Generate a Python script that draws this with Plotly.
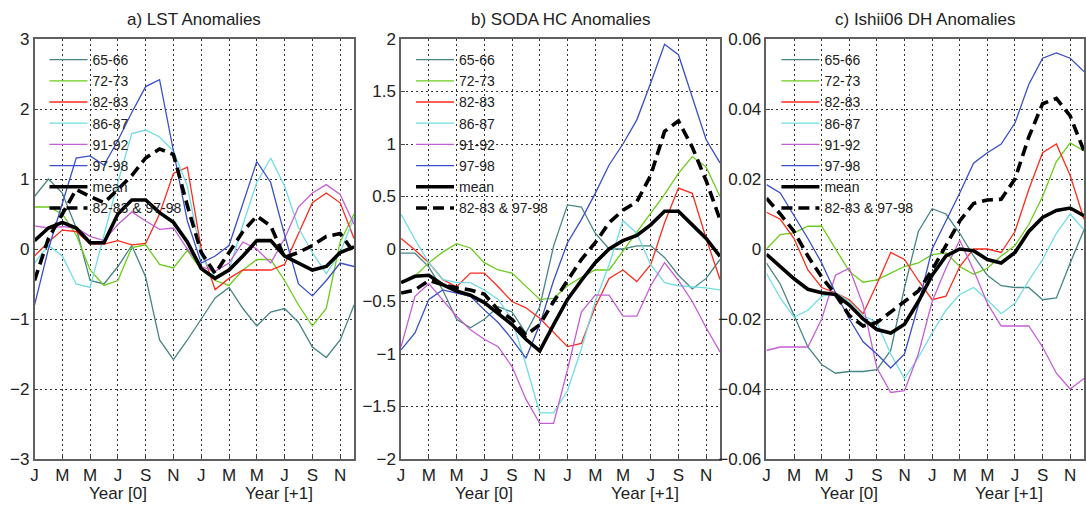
import plotly.graph_objects as go

months = list(range(24))
tick_vals = [0, 2, 4, 6, 8, 10, 12, 14, 16, 18, 20, 22]
tick_text = ["J", "M", "M", "J", "S", "N", "J", "M", "M", "J", "S", "N"]

series_names = ["65-66", "72-73", "82-83", "86-87", "91-92", "97-98", "mean", "82-83 & 97-98"]

# Panel a) LST anomalies
a_6566 = [0.75, 1.0, 0.8, 0.3, -0.45, -0.5, -0.25, 0.05, -0.4, -1.3, -1.58, -1.3, -1.0, -0.7, -0.55, -0.85, -1.1, -0.9, -0.85, -1.05, -1.4, -1.55, -1.3, -0.8]
a_7273 = [0.6, 0.6, 0.5, 0.2, -0.3, -0.52, -0.45, 0.02, 0.06, -0.22, -0.27, -0.02, -0.3, -0.45, -0.52, -0.3, -0.15, -0.15, -0.45, -0.8, -1.1, -0.85, 0.1, 0.5]
a_8283 = [-0.1, 0.1, 0.27, 0.25, 0.07, 0.07, 0.12, 0.06, 0.08, 0.5, 1.08, 1.17, 0.0, -0.58, -0.42, -0.3, -0.3, -0.3, -0.22, 0.23, 0.66, 0.8, 0.66, 0.15]
a_8687 = [-0.2, 0.05, -0.1, -0.5, -0.55, 0.2, 0.95, 1.65, 1.7, 1.6, 1.4, 0.9, -0.1, -0.4, -0.3, 0.35, 0.95, 1.3, 0.9, 0.3, -0.05, -0.35, -0.05, 0.45]
a_9192 = [0.33, 0.3, 0.32, 0.3, 0.18, 0.12, 0.35, 0.53, 0.4, 0.28, 0.3, 0.0, -0.25, -0.32, -0.2, 0.1, 0.0, -0.2, 0.15, 0.6, 0.8, 0.92, 0.78, 0.35]
a_9798 = [-0.8, 0.0, 0.65, 1.3, 1.33, 1.2, 1.55, 1.95, 2.32, 2.42, 1.4, 0.4, -0.2, -0.1, 0.05, 0.65, 1.25, 0.95, 0.2, -0.5, -0.67, -0.45, -0.2, -0.25]
a_mean = [0.12, 0.3, 0.38, 0.3, 0.09, 0.09, 0.5, 0.7, 0.7, 0.52, 0.38, 0.1, -0.28, -0.42, -0.3, -0.1, 0.12, 0.12, -0.1, -0.2, -0.3, -0.25, -0.05, 0.03]
a_dash = [-0.45, 0.15, 0.5, 0.85, 0.75, 0.66, 0.85, 1.05, 1.3, 1.43, 1.35, 0.62, -0.05, -0.35, -0.05, 0.25, 0.47, 0.33, -0.12, -0.05, 0.05, 0.18, 0.22, -0.05]

# Panel b) SODA HC anomalies
b_6566 = [-0.04, -0.04, -0.17, -0.39, -0.67, -0.75, -0.67, -0.55, -0.6, -0.8, -0.55, 0.03, 0.42, 0.4, 0.15, 0.0, 0.0, 0.03, 0.03, -0.08, -0.25, -0.38, -0.28, -0.1]
b_7273 = [-0.32, -0.26, -0.13, -0.03, 0.05, 0.01, -0.13, -0.2, -0.23, -0.36, -0.48, -0.47, -0.35, -0.27, -0.2, -0.2, -0.02, 0.15, 0.33, 0.52, 0.72, 0.88, 0.78, 0.5]
b_8283 = [0.1, -0.01, -0.13, -0.29, -0.36, -0.23, -0.23, -0.36, -0.5, -0.56, -0.66, -0.8, -0.93, -0.9, -0.55, -0.28, -0.2, -0.31, -0.15, 0.25, 0.58, 0.53, 0.1, -0.29]
b_8687 = [0.33, 0.09, -0.13, -0.29, -0.32, -0.32, -0.39, -0.48, -0.67, -1.1, -1.56, -1.56, -1.35, -0.95, -0.5, -0.15, 0.27, 0.15, -0.15, -0.32, -0.35, -0.36, -0.37, -0.39]
b_9192 = [-0.93, -0.45, -0.33, -0.48, -0.64, -0.77, -0.86, -0.93, -1.12, -1.43, -1.66, -1.66, -1.15, -0.6, -0.44, -0.44, -0.64, -0.64, -0.35, -0.13, -0.3, -0.5, -0.75, -0.98]
b_9798 = [-0.96, -0.8, -0.48, -0.39, -0.42, -0.45, -0.58, -0.7, -0.86, -1.04, -0.72, -0.3, 0.06, 0.28, 0.53, 0.8, 1.0, 1.23, 1.58, 1.95, 1.85, 1.45, 1.04, 0.82]
b_mean = [-0.32, -0.26, -0.25, -0.34, -0.4, -0.44, -0.51, -0.61, -0.72, -0.86, -0.97, -0.72, -0.48, -0.3, -0.13, 0.0, 0.08, 0.13, 0.23, 0.36, 0.36, 0.23, 0.1, -0.07]
b_dash = [-0.42, -0.39, -0.3, -0.34, -0.37, -0.39, -0.43, -0.58, -0.67, -0.82, -0.72, -0.5, -0.3, -0.1, 0.06, 0.25, 0.37, 0.45, 0.7, 1.12, 1.22, 0.97, 0.65, 0.28]

# Panel c) Ishii06 DH anomalies (in units of 0.01)
c_6566 = [-0.4, -1.0, -1.9, -2.8, -3.3, -3.55, -3.5, -3.5, -3.45, -2.9, -1.1, 0.5, 1.15, 1.0, 0.45, -0.2, -0.75, -1.05, -1.1, -1.1, -1.45, -1.4, -0.4, 0.55]
c_7273 = [0.0, 0.41, 0.46, 0.65, 0.65, 0.0, -0.64, -0.95, -0.88, -0.69, -0.5, -0.4, -0.16, -0.11, -0.5, -0.72, -0.55, -0.2, 0.1, 0.7, 1.5, 2.5, 3.03, 2.8]
c_8283 = [1.05, 0.85, 0.3, -0.6, -1.1, -1.25, -1.45, -1.85, -1.0, -0.1, -0.3, -0.9, -1.45, -1.35, -0.5, 0.0, 0.0, -0.1, 0.5, 1.7, 2.75, 3.0, 2.1, 0.85]
c_8687 = [-0.7, -1.4, -1.95, -1.75, -1.35, -1.25, -1.5, -1.9, -2.1, -3.0, -3.7, -3.1, -2.4, -1.75, -1.3, -1.1, -1.45, -1.85, -1.55, -0.9, -0.3, 0.45, 1.0, 0.55]
c_9192 = [-2.9, -2.8, -2.8, -2.8, -2.0, -0.75, -0.55, -1.6, -3.4, -4.1, -4.05, -3.0, -1.5, -0.55, 0.25, -0.6, -1.55, -2.2, -2.2, -2.2, -2.8, -3.55, -4.0, -3.7]
c_9798 = [1.84, 1.6, 0.95, 0.3, -0.4, -1.25, -2.0, -2.65, -3.0, -3.4, -3.0, -1.6, 0.0, 0.8, 1.6, 2.45, 2.75, 3.0, 3.6, 4.7, 5.45, 5.6, 5.45, 5.07]
c_mean = [-0.15, -0.5, -0.85, -1.15, -1.25, -1.3, -1.6, -2.0, -2.3, -2.4, -2.15, -1.5, -0.75, -0.2, 0.0, -0.05, -0.3, -0.4, -0.1, 0.5, 0.9, 1.1, 1.17, 0.95]
c_dash = [1.45, 1.0, 0.5, -0.2, -0.8, -1.3, -1.9, -2.2, -2.1, -1.8, -1.5, -1.2, -0.6, 0.1, 0.8, 1.3, 1.4, 1.42, 2.0, 3.2, 4.15, 4.3, 3.8, 2.8]
c_scale = 0.01

panel_titles = ["a) LST Anomalies", "b) SODA HC Anomalies", "c) Ishii06 DH Anomalies"]
year_labels = ["Year [0]", "Year [+1]"]

colors = ["#478585", "#6ccc1c", "#ff2b1c", "#70dde4", "#c45fd6", "#3a4fc8", "#000000", "#000000"]
widths = [1.3, 1.3, 1.3, 1.3, 1.3, 1.3, 3.6, 3.6]
dashes = ["solid"] * 7 + ["11px,6px"]

panels = [
    [a_6566, a_7273, a_8283, a_8687, a_9192, a_9798, a_mean, a_dash],
    [b_6566, b_7273, b_8283, b_8687, b_9192, b_9798, b_mean, b_dash],
    [[v * c_scale for v in s] for s in [c_6566, c_7273, c_8283, c_8687, c_9192, c_9798, c_mean, c_dash]],
]

W, H = 1086, 506
mt, mb = 39.3, 46.7
plot_h = H - mt - mb
domains = [(30.7 / W, 352.0 / W), (399.3 / W, 720.0 / W), (766.7 / W, 1.0)]
yranges = [(-3, 3, 1), (-2, 2, 0.5), (-0.06, 0.06, 0.02)]

FONT = "Arial, Liberation Sans, sans-serif"
fig = go.Figure()

legend_names = ["legend", "legend2", "legend3"]
for p, series in enumerate(panels):
    xa = "x" if p == 0 else f"x{p+1}"
    ya = "y" if p == 0 else f"y{p+1}"
    for i, s in enumerate(series):
        fig.add_trace(go.Scatter(
            x=months, y=s, mode="lines", name=series_names[i],
            line=dict(color=colors[i], width=widths[i], dash=dashes[i]),
            xaxis=xa, yaxis=ya, legend=legend_names[p], showlegend=True,
        ))

layout = dict(
    width=W, height=H,
    margin=dict(l=0, r=0, t=mt, b=mb, pad=0),
    paper_bgcolor="white", plot_bgcolor="white",
    font=dict(family=FONT, size=15, color="#222222"),
    annotations=[], showlegend=True,
)

for p in range(3):
    xk = "xaxis" if p == 0 else f"xaxis{p+1}"
    yk = "yaxis" if p == 0 else f"yaxis{p+1}"
    ya = "y" if p == 0 else f"y{p+1}"
    xa = "x" if p == 0 else f"x{p+1}"
    lo, hi, dt = yranges[p]
    layout[xk] = dict(
        domain=list(domains[p]), range=[0, 23], anchor=ya,
        tickmode="array", tickvals=tick_vals, ticktext=tick_text,
        showgrid=True, gridcolor="#333333", griddash="2px,3px", gridwidth=1,
        showline=True, mirror=True, linecolor="#606060", linewidth=1.5,
        ticks="inside", ticklen=4, tickcolor="#444444",
        tickfont=dict(family=FONT, size=17, color="#222222"),
        zeroline=False,
    )
    layout[yk] = dict(
        domain=[0, 1], range=[lo, hi], anchor=xa, dtick=dt, tick0=lo,
        showgrid=True, gridcolor="#333333", griddash="2px,3px", gridwidth=1,
        showline=True, mirror=True, linecolor="#606060", linewidth=1.5,
        ticks="inside", ticklen=4, tickcolor="#444444",
        tickfont=dict(family=FONT, size=17, color="#222222"),
        zeroline=False,
    )
    d0, d1 = domains[p]
    leg = dict(
        x=d0 + 10.0 / W, y=1 - 5.0 / plot_h, xanchor="left", yanchor="top",
        bgcolor="rgba(0,0,0,0)", borderwidth=0, itemwidth=38,
        font=dict(family=FONT, size=14, color="#222222"),
        tracegroupgap=0, traceorder="normal",
    )
    layout[legend_names[p]] = leg
    layout["annotations"].append(dict(
        text=panel_titles[p], xref=f"{xa} domain", yref="paper",
        x=0.5, y=1 + (mt - 20) / plot_h, xanchor="center", yanchor="middle",
        showarrow=False, font=dict(family=FONT, size=17, color="#222222"),
    ))
    for xv, lab in zip([6, 17.6], year_labels):
        layout["annotations"].append(dict(
            text=lab, xref=xa, yref="paper", x=xv, y=-(494 - (H - mb)) / plot_h,
            xanchor="center", yanchor="middle", showarrow=False,
            font=dict(family=FONT, size=17, color="#222222"),
        ))

fig.update_layout(**layout)
fig.write_html("out.html", config={"displayModeBar": False},
               post_script="document.body.style.margin='0px';")
